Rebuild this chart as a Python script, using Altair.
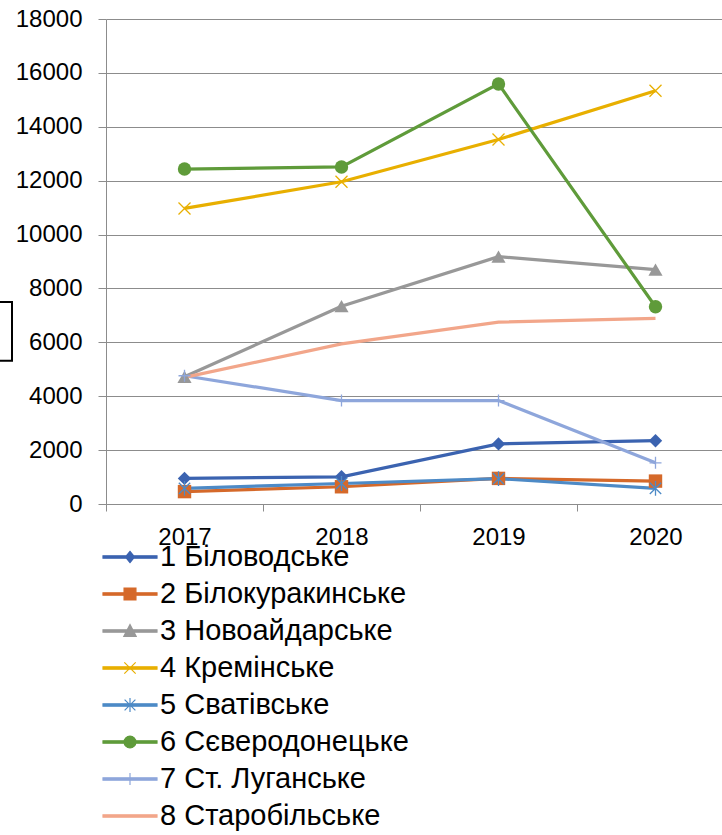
import altair as alt
import pandas as pd

# --- data -------------------------------------------------------------
years = [2017, 2018, 2019, 2020]

names = [
    "1 Біловодське",
    "2 Білокуракинське",
    "3 Новоайдарське",
    "4 Кремінське",
    "5 Сватівське",
    "6 Сєверодонецьке",
    "7 Ст. Луганське",
    "8 Старобільське",
]

bilovodske = [950, 1010, 2230, 2350]
bilokurakyne = [460, 640, 950, 850]
novoaidar = [4720, 7340, 9180, 8700]
kreminna = [10970, 11960, 13530, 15340]
svatove = [580, 760, 940, 580]
sievierodonetsk = [12430, 12510, 15590, 7320]
st_luhanske = [4760, 3840, 3840, 1530]
starobilsk = [4700, 5940, 6750, 6890]

series_values = [bilovodske, bilokurakyne, novoaidar, kreminna,
                 svatove, sievierodonetsk, st_luhanske, starobilsk]

colors = ["#3B63B0", "#D5692A", "#989898", "#E8AF00",
          "#4D8AC6", "#5F9B3A", "#8EA6DB", "#F2A68A"]

rows = []
for name, vals in zip(names, series_values):
    for y, v in zip(years, vals):
        rows.append({"series": name, "year": y, "value": v})
df = pd.DataFrame(rows)

# --- marker shapes ----------------------------------------------------
X_PATH = "M-1,-1L1,1M-1,1L1,-1"
AST_PATH = "M-1,-1L1,1M-1,1L1,-1M0,-1.3V1.3"
PLUS_PATH = "M0,-1V1M-1,0H1"

# (series index, shape, filled, size)
markers = [
    (0, "diamond", True, 180),
    (1, "square", True, 180),
    (2, "triangle-up", True, 200),
    (5, "circle", True, 180),
    (3, X_PATH, False, 144),
    (4, AST_PATH, False, 130),
    (6, PLUS_PATH, False, 144),
]

# legend symbols: a short thick line with the series marker on top
LINE = "M-1,-0.043H1V0.043H-1Z"
legend_marks = [
    "M0,-0.21L0.17,0L0,0.21L-0.17,0Z",
    "M-0.22,-0.22H0.22V0.22H-0.22Z",
    "M0,-0.24L0.23,0.2L-0.23,0.2Z",
    "M-0.21,-0.21L0.21,0.21M-0.21,0.21L0.21,-0.21",
    "M-0.2,-0.2L0.2,0.2M-0.2,0.2L0.2,-0.2M0,-0.26V0.26",
    "M-0.22,0A0.22,0.22 0 1,1 0.22,0A0.22,0.22 0 1,1 -0.22,0Z",
    "M0,-0.22V0.22",
    "",
]
legend_paths = [LINE + m for m in legend_marks]
sym_expr = ("[" + ",".join("'" + p + "'" for p in legend_paths) + "]"
            "[indexof([" + ",".join("'" + n + "'" for n in names) + "], datum.value)]")

FONT = "Liberation Sans"
GRID = "#8C8C8C"

# --- scales & axes ----------------------------------------------------
x_enc = alt.X(
    "year:Q",
    scale=alt.Scale(domain=[2016.5, 2016.5 + 616 / 157], nice=False, zero=False),
    axis=alt.Axis(
        title=None,
        values=[2016.5, 2017, 2017.5, 2018, 2018.5, 2019, 2019.5, 2020],
        labelExpr="datum.value % 1 == 0 ? format(datum.value, 'd') : ''",
        tickOpacity={"condition": {"test": "datum.value % 1 == 0", "value": 0}, "value": 1},
        grid=False,
        tickSize=7,
        tickColor=GRID,
        domainColor=GRID,
        labelPadding=14,
        labelFont=FONT,
        labelFontSize=24,
        labelColor="black",
        labelOverlap=False,
        labelFlush=False,
    ),
)

y_enc = alt.Y(
    "value:Q",
    scale=alt.Scale(domain=[0, 18000], nice=False),
    axis=alt.Axis(
        title=None,
        values=list(range(0, 18001, 2000)),
        format="d",
        grid=True,
        gridColor=GRID,
        tickSize=8,
        tickColor=GRID,
        domainColor=GRID,
        labelPadding=16,
        labelFont=FONT,
        labelFontSize=24,
        labelColor="black",
        labelOverlap=False,
    ),
)

color_scale = alt.Scale(domain=names, range=colors)

legend = alt.Legend(
    title=None,
    orient="none",
    legendX=-4,
    legendY=522,
    direction="vertical",
    symbolType={"expr": sym_expr},
    symbolSize=2916,
    symbolStrokeWidth=1.2,
    symbolFillColor={"expr": "scale('color', datum.value)"},
    symbolStrokeColor={"expr": "scale('color', datum.value)"},
    symbolOpacity=1,
    labelFont=FONT,
    labelFontSize=29,
    labelColor="black",
    labelLimit=500,
    labelOffset=2,
    clipHeight=32,
    rowPadding=5.0,
    padding=0,
    offset=0,
)

base = alt.Chart(df)

# invisible points that only carry the legend
legend_layer = base.mark_point(filled=True, opacity=0).encode(
    x=x_enc, y=y_enc,
    color=alt.Color("series:N", scale=color_scale, legend=legend),
)

lines = base.mark_line(strokeWidth=3.2).encode(
    x=x_enc, y=y_enc,
    color=alt.Color("series:N", scale=color_scale, legend=None),
)

marker_layers = []
for idx, shape, filled, size in markers:
    if filled:
        mk = base.mark_point(filled=True, shape=shape, size=size, opacity=1)
    else:
        mk = base.mark_point(filled=False, shape=shape, size=size,
                             strokeWidth=1.3, opacity=1)
    marker_layers.append(
        mk.encode(
            x=x_enc, y=y_enc,
            color=alt.Color("series:N", scale=color_scale, legend=None),
        ).transform_filter(alt.datum.series == names[idx])
    )

# frame of the y-axis title box, mostly off the left edge of the canvas
frame = alt.Chart(pd.DataFrame({"k": [0]})).mark_rect(
    fill="transparent", stroke="black", strokeWidth=2
).encode(
    x=alt.value(-140), x2=alt.value(-94),
    y=alt.value(283), y2=alt.value(341.7),
)

chart = alt.layer(legend_layer, lines, *marker_layers, frame).properties(
    width=616,
    height=485,
    autosize=alt.AutoSizeParams(type="none"),
    padding={"left": 106, "top": 19, "right": 0, "bottom": 331},
    background="white",
).configure_view(stroke=None)

chart.save("out.html", embed_options={"renderer": "svg", "actions": False})
